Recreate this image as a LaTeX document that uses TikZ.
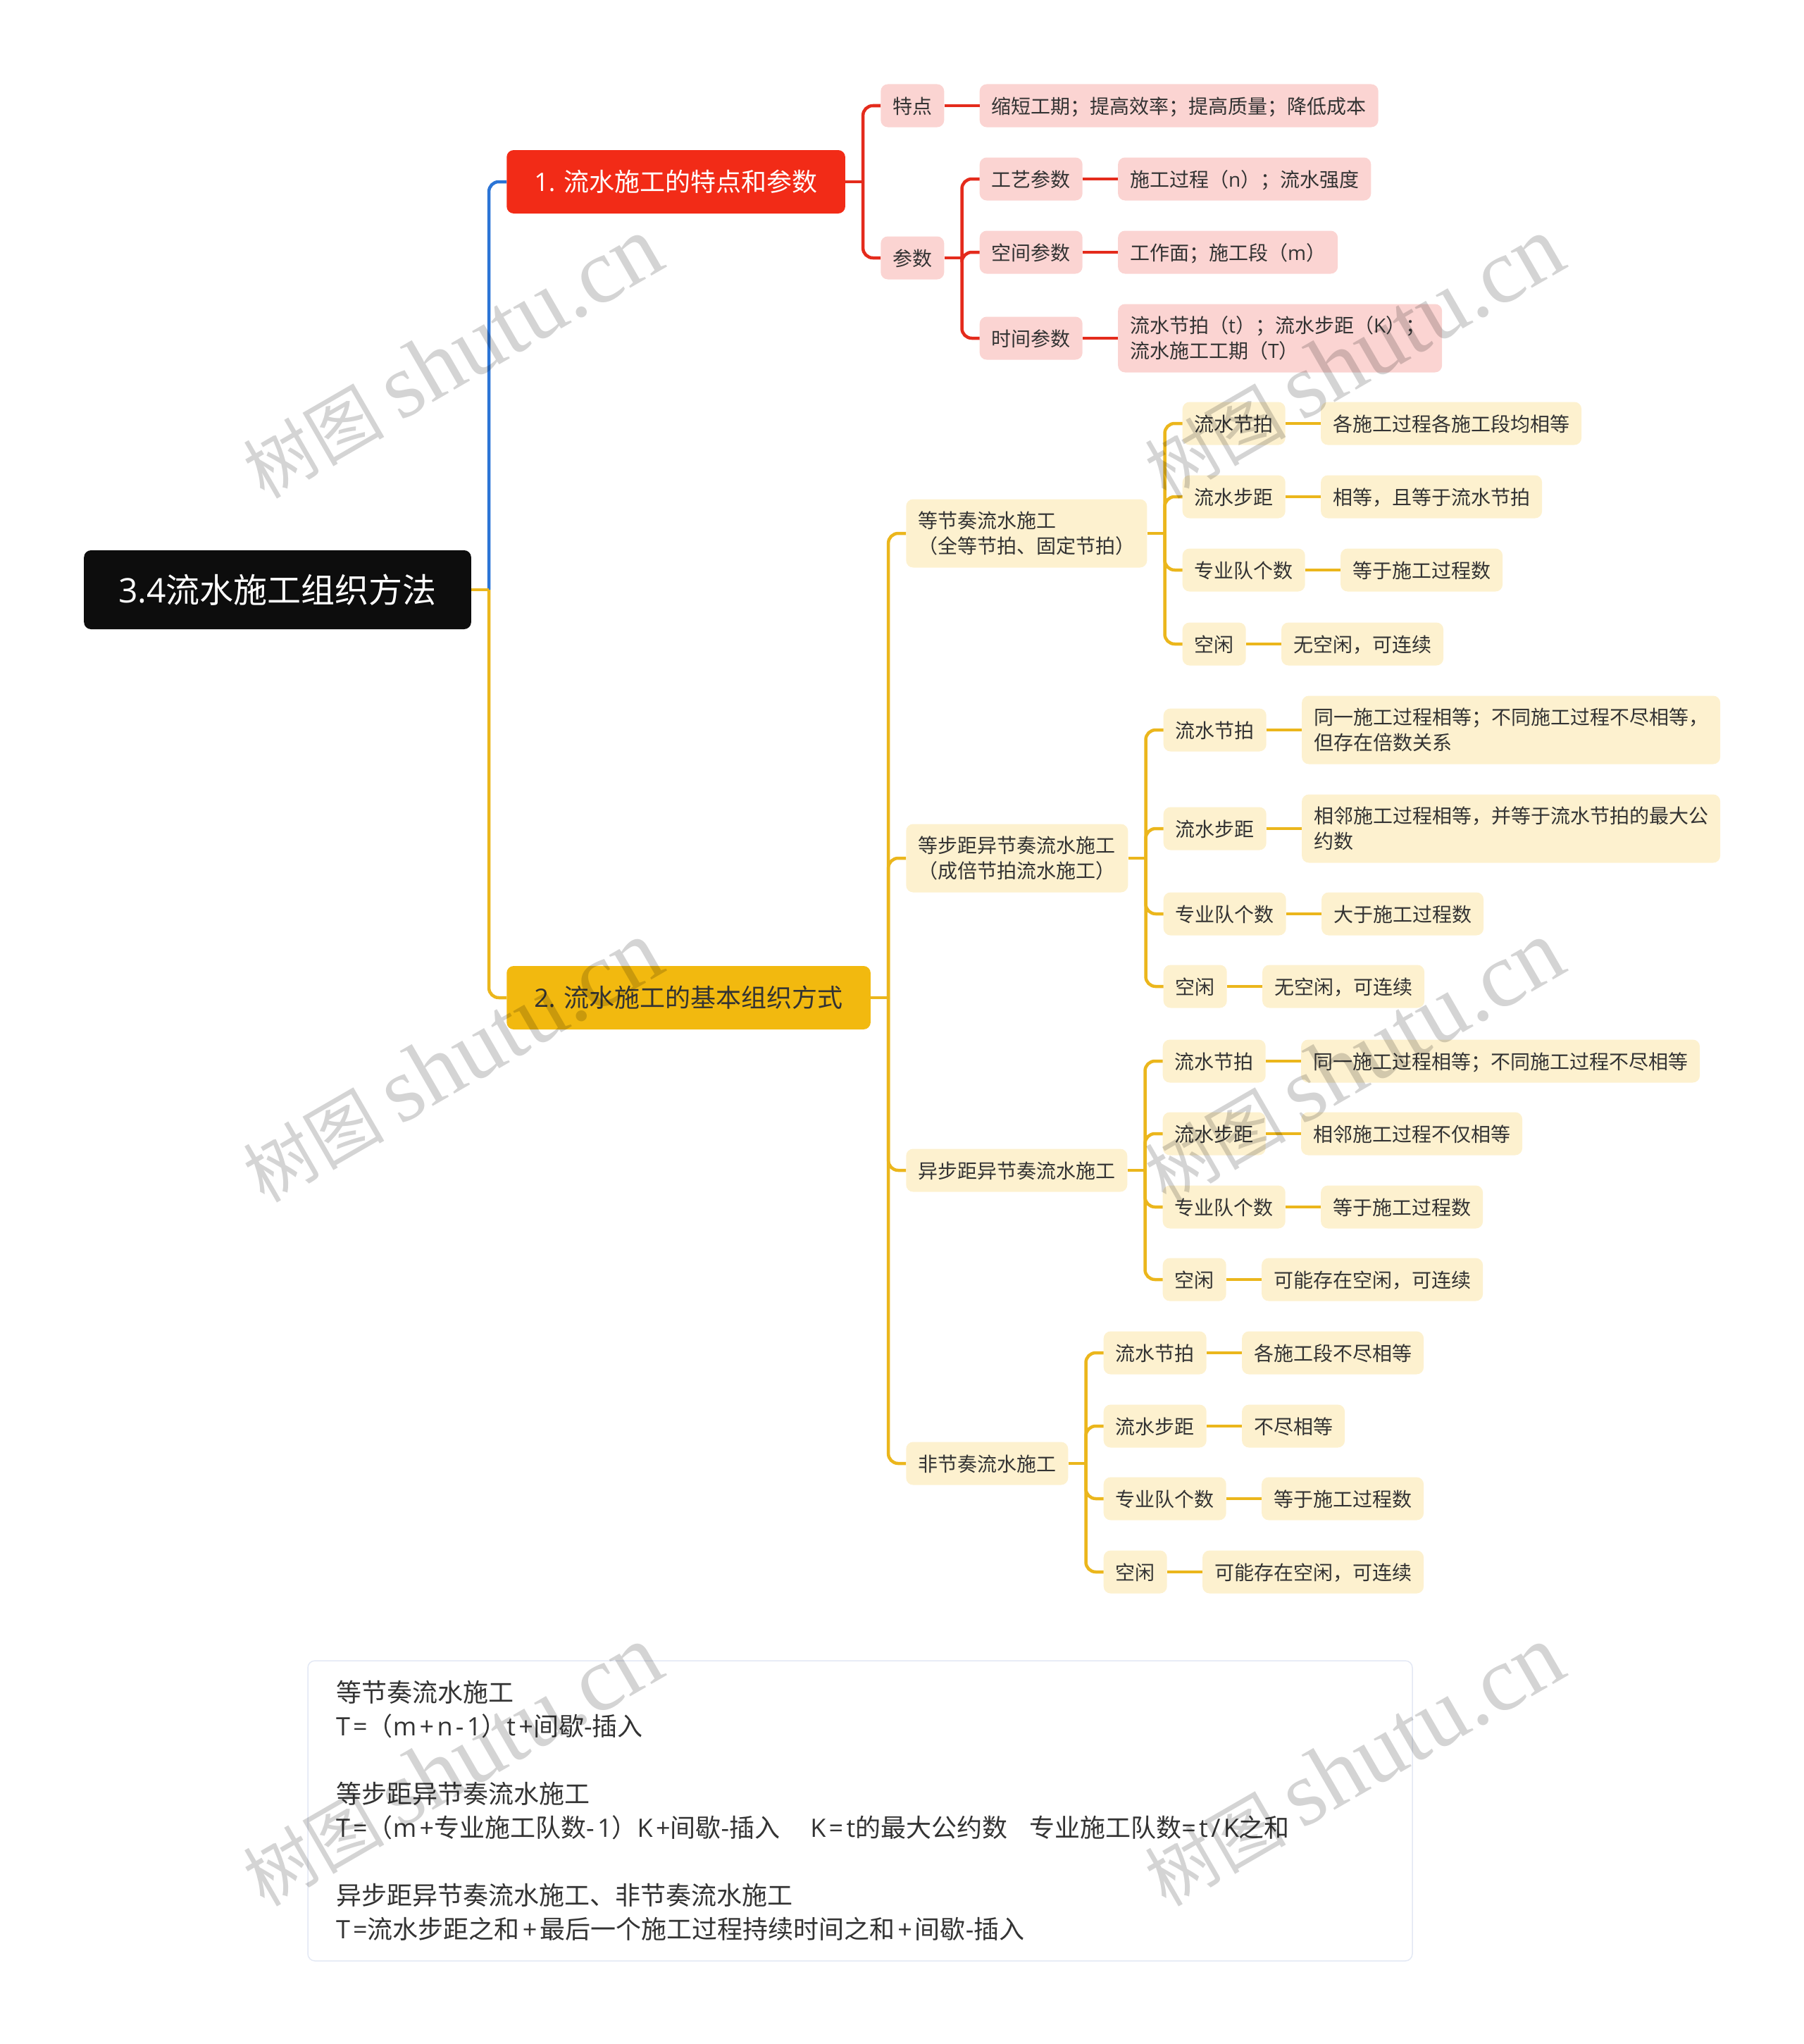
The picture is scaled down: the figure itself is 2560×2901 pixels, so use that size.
\documentclass[tikz,border=0pt]{standalone}
\usepackage{fontspec}
\setmainfont{Noto Sans CJK SC}
\newfontfamily\wmfont{Liberation Serif}
\newfontfamily\lat{Open Sans}
\newfontfamily\latn[LetterSpace=12]{Open Sans}
\definecolor{redline}{HTML}{E42B1C}
\definecolor{goldline}{HTML}{EBB61C}
\definecolor{blueline}{HTML}{2B74D6}
\definecolor{redfill}{HTML}{F22B17}
\definecolor{goldfill}{HTML}{F2B90F}
\definecolor{pinkfill}{HTML}{FBD4D2}
\definecolor{creamfill}{HTML}{FDF1CF}
\definecolor{rootfill}{HTML}{0D0D0D}
\definecolor{inktext}{HTML}{333333}
\definecolor{noteedge}{HTML}{E3E8F4}
\tikzset{
    box/.style={rectangle,rounded corners=10pt,anchor=west,xshift=50pt,inner ysep=0pt,text=inktext,align=left},
    smallfont/.style={font=\fontsize{28}{36}\selectfont},
    oneline/.style={box,smallfont,inner xsep=17pt,minimum height=61pt,text height=26pt,text depth=4pt},
    twoline/.style={box,smallfont,inner xsep=17pt,minimum height=97pt},
    rootbox/.style={rectangle,rounded corners=10pt,anchor=west,fill=rootfill,text=white,inner xsep=49pt,inner ysep=0pt,minimum height=112pt,font=\fontsize{48}{58}\selectfont},
    mainbox/.style={box,inner xsep=39pt,minimum height=90pt,font=\fontsize{36}{44}\selectfont},
    pink/.style={oneline,fill=pinkfill},
    pinktwo/.style={twoline,fill=pinkfill},
    cream/.style={oneline,fill=creamfill},
    creamtwo/.style={twoline,fill=creamfill},
    notebox/.style={rectangle,rounded corners=10pt,draw=noteedge,line width=1.5pt,fill=white,text=inktext,text width=1488pt,inner xsep=40pt,inner ysep=0pt,minimum height=426pt,align=left,font=\fontsize{36}{48}\selectfont},
    watermark/.style={rotate=30,text=black,opacity=.17,font=\fontsize{100}{130}\selectfont},
    link/.style={line width=4.5pt},
    fork/.style={line width=4.5pt,rounded corners=14pt},
}
\newcommand{\wmtext}{树图 {\wmfont\fontsize{131}{130}\selectfont shutu.cn}}
\begin{document}
\begin{tikzpicture}
    \useasboundingbox (0,0) rectangle (2560pt,-2901pt) ;

    \node[rootbox] (root) at (119pt,-837pt) {{\lat 3.4}流水施工组织方法} ;

    \node[mainbox,fill=redfill,text=white,yshift=579pt] (part1) at (root.east) {{\lat 1. }流水施工的特点和参数} ;
    \node[mainbox,fill=goldfill,yshift=-579pt] (part2) at (root.east) {{\lat 2. }流水施工的基本组织方式} ;

    \node[pink,yshift=108pt] (tedian) at (part1.east) {特点} ;
    \node[pink] (tedian_t) at (tedian.east) {缩短工期；提高效率；提高质量；降低成本} ;
    \node[pink,yshift=-108pt] (canshu) at (part1.east) {参数} ;
    \node[pink,yshift=112pt] (gongyi) at (canshu.east) {工艺参数} ;
    \node[pink] (gongyi_t) at (gongyi.east) {施工过程（{\lat n}）；流水强度} ;
    \node[pink,yshift=8pt] (kongjian) at (canshu.east) {空间参数} ;
    \node[pink] (kongjian_t) at (kongjian.east) {工作面；施工段（{\lat m}）} ;
    \node[pink,yshift=-114pt] (shijian) at (canshu.east) {时间参数} ;
    \node[pinktwo] (shijian_t) at (shijian.east) {流水节拍（{\lat t}）；流水步距（{\lat K}）；\hspace*{7pt}\\流水施工工期（{\lat T}）} ;

    \node[creamtwo,yshift=659pt] (a) at (part2.east) {等节奏流水施工\\（全等节拍、固定节拍）} ;
    \node[cream,yshift=156pt] (a_jp) at (a.east) {流水节拍} ;
    \node[cream] (a_jp_t) at (a_jp.east) {各施工过程各施工段均相等} ;
    \node[cream,yshift=52pt] (a_bj) at (a.east) {流水步距} ;
    \node[cream] (a_bj_t) at (a_bj.east) {相等，且等于流水节拍} ;
    \node[cream,yshift=-52pt] (a_dw) at (a.east) {专业队个数} ;
    \node[cream] (a_dw_t) at (a_dw.east) {等于施工过程数} ;
    \node[cream,yshift=-157pt] (a_kx) at (a.east) {空闲} ;
    \node[cream] (a_kx_t) at (a_kx.east) {无空闲，可连续} ;

    \node[creamtwo,inner xsep=17.5pt,yshift=198pt] (b) at (part2.east) {等步距异节奏流水施工\\（成倍节拍流水施工）} ;
    \node[cream,yshift=182pt] (b_jp) at (b.east) {流水节拍} ;
    \node[creamtwo] (b_jp_t) at (b_jp.east) {同一施工过程相等；不同施工过程不尽相等，\\但存在倍数关系} ;
    \node[cream,yshift=42pt] (b_bj) at (b.east) {流水步距} ;
    \node[creamtwo] (b_bj_t) at (b_bj.east) {相邻施工过程相等，并等于流水节拍的最大公\\约数} ;
    \node[cream,yshift=-79pt] (b_dw) at (b.east) {专业队个数} ;
    \node[cream] (b_dw_t) at (b_dw.east) {大于施工过程数} ;
    \node[cream,yshift=-182pt] (b_kx) at (b.east) {空闲} ;
    \node[cream] (b_kx_t) at (b_kx.east) {无空闲，可连续} ;

    \node[cream,yshift=-245pt] (c) at (part2.east) {异步距异节奏流水施工} ;
    \node[cream,yshift=155pt] (c_jp) at (c.east) {流水节拍} ;
    \node[cream] (c_jp_t) at (c_jp.east) {同一施工过程相等；不同施工过程不尽相等} ;
    \node[cream,yshift=52pt] (c_bj) at (c.east) {流水步距} ;
    \node[cream] (c_bj_t) at (c_bj.east) {相邻施工过程不仅相等} ;
    \node[cream,yshift=-52pt] (c_dw) at (c.east) {专业队个数} ;
    \node[cream] (c_dw_t) at (c_dw.east) {等于施工过程数} ;
    \node[cream,yshift=-155pt] (c_kx) at (c.east) {空闲} ;
    \node[cream] (c_kx_t) at (c_kx.east) {可能存在空闲，可连续} ;

    \node[cream,yshift=-661pt] (d) at (part2.east) {非节奏流水施工} ;
    \node[cream,yshift=157pt] (d_jp) at (d.east) {流水节拍} ;
    \node[cream] (d_jp_t) at (d_jp.east) {各施工段不尽相等} ;
    \node[cream,yshift=53pt] (d_bj) at (d.east) {流水步距} ;
    \node[cream] (d_bj_t) at (d_bj.east) {不尽相等} ;
    \node[cream,yshift=-50pt] (d_dw) at (d.east) {专业队个数} ;
    \node[cream] (d_dw_t) at (d_dw.east) {等于施工过程数} ;
    \node[cream,yshift=-154pt] (d_kx) at (d.east) {空闲} ;
    \node[cream] (d_kx_t) at (d_kx.east) {可能存在空闲，可连续} ;

    \node[notebox] (note) at (1221pt,-2570pt) {等节奏流水施工\\{\latn T=}（{\latn m+n-1}）{\latn t+}间歇{\latn -}插入\\[48pt]等步距异节奏流水施工\\{\latn T=}（{\latn m+}专业施工队数{\latn -1}）{\latn K+}间歇{\latn -}插入\hspace{43pt}{\latn K=t}的最大公约数\hspace{31pt}专业施工队数{\latn =t/K}之和\\[48pt]异步距异节奏流水施工、非节奏流水施工\\{\latn T=}流水步距之和\hspace{4pt}{\latn +}\hspace{4pt}最后一个施工过程持续时间之和\hspace{4pt}{\latn +}\hspace{4pt}间歇{\latn -}插入} ;

    % forks
    \coordinate[xshift=25pt] (root_s) at (root.east) ;
    \coordinate[xshift=25pt] (part1_s) at (part1.east) ;
    \coordinate[xshift=25pt] (part2_s) at (part2.east) ;
    \coordinate[xshift=25pt] (canshu_s) at (canshu.east) ;
    \coordinate[xshift=25pt] (a_s) at (a.east) ;
    \coordinate[xshift=25pt] (b_s) at (b.east) ;
    \coordinate[xshift=25pt] (c_s) at (c.east) ;
    \coordinate[xshift=25pt] (d_s) at (d.east) ;

    \draw[fork,blueline] (root_s) |- (part1.west) ;
    \draw[fork,goldline] (root_s) |- (part2.west) ;
    \draw[link,goldline] (root.east) -- (root_s) ;

    \draw[link,redline] (part1.east) -- (part1_s) ;
    \draw[fork,redline] (part1_s) |- (tedian.west) ;
    \draw[fork,redline] (part1_s) |- (canshu.west) ;
    \draw[link,redline] (tedian) -- (tedian_t) ;
    \draw[link,redline] (canshu.east) -- (canshu_s) ;
    \draw[fork,redline] (canshu_s) |- (gongyi.west) ;
    \draw[fork,redline] (canshu_s) |- (kongjian.west) ;
    \draw[fork,redline] (canshu_s) |- (shijian.west) ;
    \draw[link,redline] (gongyi) -- (gongyi_t) ;
    \draw[link,redline] (kongjian) -- (kongjian_t) ;
    \draw[link,redline] (shijian) -- (shijian_t) ;

    \draw[link,goldline] (part2.east) -- (part2_s) ;
    \draw[fork,goldline] (part2_s) |- (a.west) ;
    \draw[fork,goldline] (part2_s) |- (b.west) ;
    \draw[fork,goldline] (part2_s) |- (c.west) ;
    \draw[fork,goldline] (part2_s) |- (d.west) ;

    \draw[link,goldline] (a.east) -- (a_s) ;
    \draw[fork,goldline] (a_s) |- (a_jp.west) ;
    \draw[fork,goldline] (a_s) |- (a_bj.west) ;
    \draw[fork,goldline] (a_s) |- (a_dw.west) ;
    \draw[fork,goldline] (a_s) |- (a_kx.west) ;
    \draw[link,goldline] (a_jp) -- (a_jp_t) ;
    \draw[link,goldline] (a_bj) -- (a_bj_t) ;
    \draw[link,goldline] (a_dw) -- (a_dw_t) ;
    \draw[link,goldline] (a_kx) -- (a_kx_t) ;

    \draw[link,goldline] (b.east) -- (b_s) ;
    \draw[fork,goldline] (b_s) |- (b_jp.west) ;
    \draw[fork,goldline] (b_s) |- (b_bj.west) ;
    \draw[fork,goldline] (b_s) |- (b_dw.west) ;
    \draw[fork,goldline] (b_s) |- (b_kx.west) ;
    \draw[link,goldline] (b_jp) -- (b_jp_t) ;
    \draw[link,goldline] (b_bj) -- (b_bj_t) ;
    \draw[link,goldline] (b_dw) -- (b_dw_t) ;
    \draw[link,goldline] (b_kx) -- (b_kx_t) ;

    \draw[link,goldline] (c.east) -- (c_s) ;
    \draw[fork,goldline] (c_s) |- (c_jp.west) ;
    \draw[fork,goldline] (c_s) |- (c_bj.west) ;
    \draw[fork,goldline] (c_s) |- (c_dw.west) ;
    \draw[fork,goldline] (c_s) |- (c_kx.west) ;
    \draw[link,goldline] (c_jp) -- (c_jp_t) ;
    \draw[link,goldline] (c_bj) -- (c_bj_t) ;
    \draw[link,goldline] (c_dw) -- (c_dw_t) ;
    \draw[link,goldline] (c_kx) -- (c_kx_t) ;

    \draw[link,goldline] (d.east) -- (d_s) ;
    \draw[fork,goldline] (d_s) |- (d_jp.west) ;
    \draw[fork,goldline] (d_s) |- (d_bj.west) ;
    \draw[fork,goldline] (d_s) |- (d_dw.west) ;
    \draw[fork,goldline] (d_s) |- (d_kx.west) ;
    \draw[link,goldline] (d_jp) -- (d_jp_t) ;
    \draw[link,goldline] (d_bj) -- (d_bj_t) ;
    \draw[link,goldline] (d_dw) -- (d_dw_t) ;
    \draw[link,goldline] (d_kx) -- (d_kx_t) ;

    % marks on top
    \node[watermark] (wm1) at (642pt,-508pt) {\wmtext} ;
    \node[watermark] (wm2) at (1922pt,-508pt) {\wmtext} ;
    \node[watermark] (wm3) at (642pt,-1507pt) {\wmtext} ;
    \node[watermark] (wm4) at (1922pt,-1507pt) {\wmtext} ;
    \node[watermark] (wm5) at (642pt,-2506pt) {\wmtext} ;
    \node[watermark] (wm6) at (1922pt,-2506pt) {\wmtext} ;
\end{tikzpicture}
\end{document}
